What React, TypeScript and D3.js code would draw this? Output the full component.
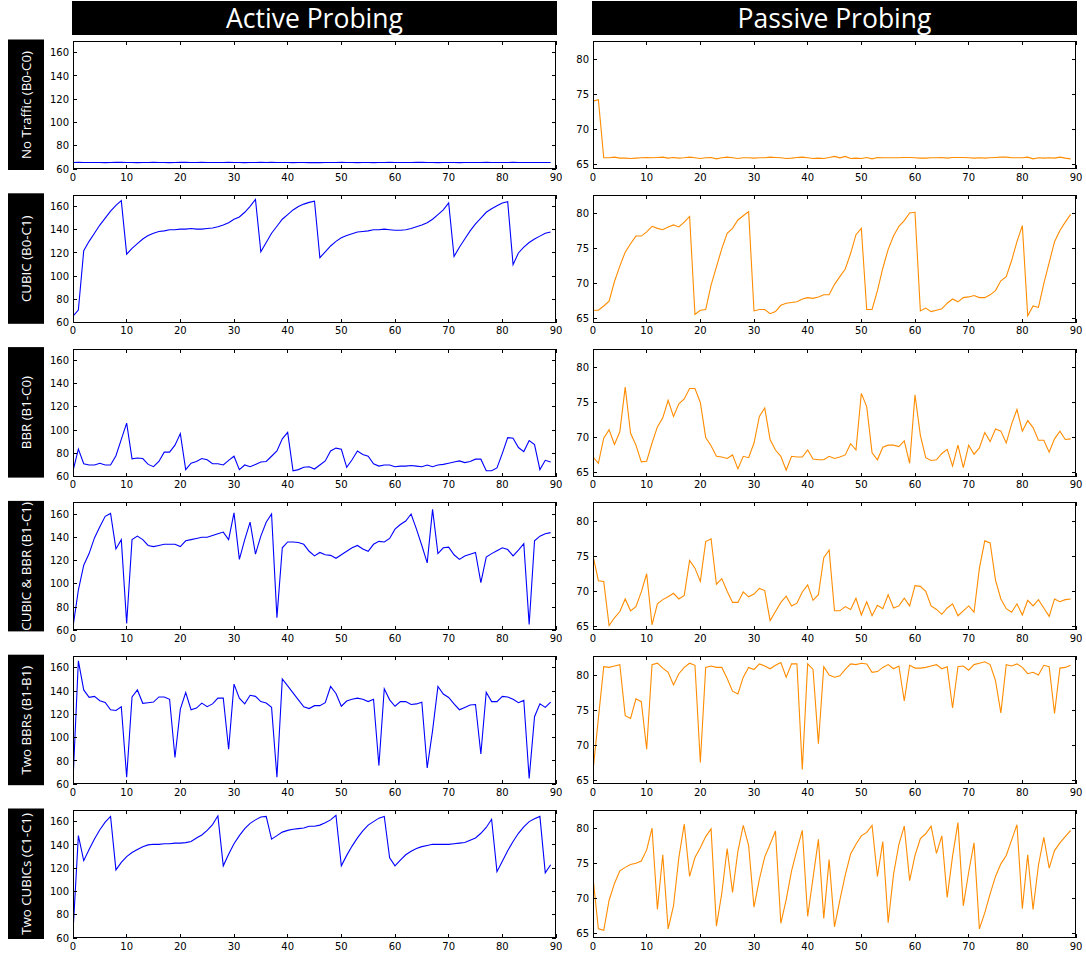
import React from "react";
import * as d3 from "d3";

const columnTitles = ["Active Probing", "Passive Probing"];
const rowLabels = [
  "No Traffic (B0-C0)",
  "CUBIC (B0-C1)",
  "BBR (B1-C0)",
  "CUBIC & BBR (B1-C1)",
  "Two BBRs (B1-B1)",
  "Two CUBICs (C1-C1)",
];
const xTicks = [0, 10, 20, 30, 40, 50, 60, 70, 80, 90];
const xDomain = [0, 90];
const activeYTicks = [60, 80, 100, 120, 140, 160];
const activeYDomain = [60, 170];
const passiveYTicks = [65, 70, 75, 80];
const passiveYDomain = [64.4, 82.7];

const activeNoTraffic = [
  65.6, 65.7, 65.6, 65.6, 65.6, 65.6, 65.5, 65.6, 65.7, 65.7,
  65.6, 65.6, 65.5, 65.6, 65.6, 65.7, 65.6, 65.6, 65.5, 65.6,
  65.7, 65.7, 65.6, 65.6, 65.7, 65.6, 65.6, 65.6, 65.6, 65.7,
  65.6, 65.6, 65.5, 65.6, 65.6, 65.7, 65.6, 65.7, 65.6, 65.6,
  65.6, 65.5, 65.6, 65.6, 65.5, 65.5, 65.5, 65.6, 65.6, 65.6,
  65.7, 65.6, 65.6, 65.5, 65.6, 65.6, 65.5, 65.6, 65.6, 65.7,
  65.6, 65.6, 65.6, 65.6, 65.7, 65.7, 65.6, 65.6, 65.5, 65.6,
  65.6, 65.6, 65.5, 65.6, 65.6, 65.6, 65.6, 65.7, 65.6, 65.6,
  65.6, 65.6, 65.7, 65.6, 65.6, 65.6, 65.6, 65.6, 65.6, 65.6,
];
const passiveNoTraffic = [
  74.1, 74.3, 66.0, 66.0, 66.1, 65.95, 65.95, 65.9, 65.95, 66.0,
  66.05, 66.0, 66.05, 66.1, 65.95, 66.05, 65.95, 66.0, 66.1, 66.0,
  65.9, 66.0, 66.05, 65.85, 66.0, 66.1, 66.0, 65.9, 66.0, 66.0,
  65.95, 66.0, 66.0, 66.1, 66.05, 66.0, 65.9, 65.95, 66.05, 66.1,
  66.0, 65.9, 65.95, 65.9, 66.05, 66.2, 66.0, 66.2, 65.9, 65.95,
  65.9, 66.05, 65.85, 66.05, 66.0, 66.0, 66.0, 66.0, 66.05, 66.05,
  66.0, 65.95, 65.95, 66.0, 66.0, 66.05, 65.95, 66.05, 66.05, 66.05,
  66.0, 65.95, 66.0, 65.95, 66.0, 66.05, 66.1, 66.1, 66.0, 66.0,
  66.0, 66.1, 65.85, 66.0, 65.95, 66.0, 65.95, 66.1, 65.95, 65.85,
];
const activeCubic = [
  65.7, 71, 122, 130, 137, 144, 150, 156, 161, 165,
  119, 124, 128, 132, 135, 137, 138.5, 139, 140, 140,
  140.5, 140.5, 141, 140.5, 140.5, 141, 141.5, 142.5, 144, 146,
  149, 151, 155, 160, 166, 121, 129, 137, 143, 149,
  153, 157, 160, 162, 163.5, 164.5, 116, 121, 126, 130,
  133, 135, 136.5, 138, 138.5, 139, 140, 140, 140.5, 140,
  139.5, 139.5, 140, 141, 142.5, 144, 146, 149, 153, 157,
  163, 117, 125, 132, 139, 145, 150, 155, 158, 160.5,
  163, 164, 110, 120, 125, 129, 132, 134.5, 137, 138,
];
const passiveCubic = [
  66.2, 66.2, 66.8, 67.5, 70.3, 72.5, 74.5, 75.7, 76.8, 76.8,
  77.4, 78.2, 77.9, 77.7, 78.1, 78.4, 78.1, 78.8, 79.6, 65.6,
  66.2, 66.3, 69.8, 72.4, 75.0, 77.2, 77.9, 79.1, 79.7, 80.3,
  66.1, 66.3, 66.3, 65.7, 66.0, 66.9, 67.2, 67.3, 67.4, 67.8,
  68.0, 67.9, 68.1, 68.4, 68.4, 69.9, 71.0, 72.1, 74.3, 77.0,
  77.9, 66.3, 66.3, 69.0, 72.2, 74.9, 76.8, 78.2, 79.0, 80.1,
  80.2, 66.1, 66.5, 66.0, 66.2, 66.4, 67.2, 67.8, 67.4, 68.0,
  68.1, 68.3, 68.0, 68.0, 68.4, 69.0, 70.4, 71.0, 73.3, 76.0,
  78.3, 65.4, 66.8, 66.6, 70.0, 73.0, 76.0, 77.6, 78.8, 79.9,
];
const activeBbr = [
  65, 83.6, 71, 70, 70, 71.5, 70, 70, 78, 92,
  106, 75.3, 76, 75.5, 70.5, 68.5, 73, 81, 81, 87,
  97, 66, 71.5, 73, 75.5, 74.5, 71, 71, 70, 74,
  77.5, 66, 70, 68.5, 70.5, 72.5, 73, 77.5, 82, 92.5,
  98, 65, 66, 68, 68.5, 66.5, 70, 73.5, 82, 84.5,
  83.5, 68, 74.5, 82, 79, 77.5, 71, 69, 70, 70,
  68.5, 69, 69, 69.5, 69, 68.5, 70, 68.5, 70, 70.5,
  71.5, 72.5, 73.5, 72, 73, 75, 75, 65, 65, 67.5,
  80, 93.5, 93, 85, 81.5, 91, 87.5, 66, 74, 72.5,
];
const passiveBbr = [
  67.2, 66.3, 69.9, 71.1, 69.0, 70.8, 77.2, 70.6, 68.9, 66.5,
  66.6, 69.2, 71.5, 72.8, 75.3, 73.0, 74.8, 75.5, 77.0, 77.0,
  75.0, 70.0, 68.8, 67.3, 67.2, 67.0, 67.5, 65.5, 67.3, 67.1,
  69.2, 73.0, 74.2, 69.7, 68.2, 67.3, 65.3, 67.3, 67.2, 67.2,
  68.2, 66.9, 66.8, 66.8, 67.3, 67.0, 67.2, 67.5, 69.1, 68.2,
  76.3, 74.4, 67.8, 66.8, 68.6, 68.9, 68.9, 68.7, 69.5, 66.3,
  76.1, 70.3, 67.1, 66.7, 66.8, 67.7, 68.3, 65.9, 68.9, 65.7,
  68.9, 67.6, 68.5, 70.7, 69.4, 71.2, 70.9, 69.2, 71.9, 74.0,
  70.9, 72.4, 71.4, 69.6, 69.6, 67.9, 69.8, 70.9, 69.7, 69.8,
];
const activeCubicBbr = [
  63, 94.7, 116, 126, 139.5, 149, 158, 160.5, 130, 138,
  66, 138, 141, 138, 133, 132, 133, 134, 134, 134,
  132, 137, 138, 139, 140, 140, 141.5, 143, 144.5, 138,
  161, 121, 138, 153, 125.5, 141, 153, 160, 71, 131,
  136, 136, 135.5, 134, 128, 124, 127, 125, 124.5, 122,
  125, 128, 131, 133, 130, 128, 134, 136.5, 136, 139,
  147, 151, 154, 160, 147, 133, 118, 164, 126, 131,
  131.5, 125, 121, 124, 125.5, 127, 101, 123, 126, 128.5,
  131, 129.5, 124, 129, 134.5, 65, 137, 141, 143, 144,
];
const passiveCubicBbr = [
  75.1, 71.5, 71.4, 65.1, 66.2, 67.1, 68.9, 67.2, 67.8, 69.9,
  72.5, 65.2, 68.2, 68.8, 69.2, 69.7, 68.9, 69.4, 74.4, 73.3,
  71.4, 77.1, 77.5, 71.0, 71.8, 70.0, 68.4, 68.4, 69.9, 69.2,
  69.6, 70.4, 70.1, 65.8, 67.1, 68.4, 69.3, 67.9, 68.3, 69.9,
  70.9, 68.7, 69.5, 74.8, 75.9, 67.2, 67.2, 67.8, 67.4, 69.0,
  66.6, 68.5, 66.5, 68.0, 67.5, 69.5, 67.6, 67.9, 69.0, 67.9,
  70.8, 70.7, 70.0, 67.9, 67.4, 66.7, 67.6, 68.2, 66.5, 67.2,
  67.9, 67.0, 73.3, 77.2, 76.9, 71.6, 68.9, 67.5, 67.0, 68.2,
  66.6, 68.7, 67.9, 68.8, 67.6, 66.4, 68.9, 68.5, 68.8, 68.9,
];
const activeTwoBbr = [
  63, 166, 141, 134.6, 135.5, 131.8, 130.3, 124, 123.4, 126.6,
  66, 135, 141, 129.5, 130, 130.6, 135, 135, 133, 83,
  124.5, 138.7, 124, 125.4, 129.7, 126.6, 129, 134, 134, 90,
  146, 134, 129, 136.4, 135.5, 131, 129.7, 126, 66, 150.5,
  144.5, 138.5, 132.5, 126.5, 125, 127.5, 127.5, 130, 144, 138,
  127, 131.5, 133, 134, 133, 131, 133, 76, 142, 132.5,
  127, 131, 131, 128.5, 129, 130.5, 74, 106, 144, 137.5,
  134.5, 129, 124, 126, 128, 128.5, 86, 139, 131, 131,
  135.5, 135, 133, 130, 132, 65, 118, 129, 126, 130.5,
];
const passiveTwoBbr = [
  66.3, 73.8, 81.2, 81.1, 81.3, 81.5, 74.2, 73.8, 76.6, 76.2,
  69.4, 81.5, 81.7, 81.0, 80.4, 78.6, 80.2, 81.1, 81.7, 81.4,
  67.5, 81.1, 81.3, 81.1, 81.1, 79.5, 77.7, 77.3, 79.7, 81.1,
  80.8, 81.6, 81.3, 80.9, 81.4, 81.8, 79.7, 81.6, 81.6, 66.5,
  81.6, 80.8, 70.2, 81.2, 80.0, 79.7, 79.9, 80.8, 81.6, 81.5,
  81.7, 81.6, 80.4, 80.5, 81.1, 81.5, 80.9, 81.3, 76.3, 81.4,
  81.0, 81.0, 81.1, 81.3, 81.5, 80.9, 81.2, 75.3, 81.2, 81.3,
  80.7, 81.5, 81.7, 81.9, 81.5, 79.2, 74.6, 81.5, 81.3, 81.6,
  81.1, 80.2, 80.4, 80.0, 81.4, 81.2, 74.5, 81.0, 81.1, 81.4,
];
const activeTwoCubic = [
  65, 148, 126.5, 136, 145, 153, 159.5, 164.5, 118.5, 125,
  130, 133.5, 136, 138.5, 140, 140.5, 140.5, 141, 141, 141.5,
  141.5, 142, 143, 146, 148.5, 152.5, 157.5, 165, 122, 132,
  141, 148, 154, 158.5, 161.5, 164, 164.5, 145, 148, 151,
  152.5, 153.5, 154, 154.5, 156, 156, 157, 159, 161.5, 165.5,
  122, 131, 139, 146, 152, 157, 160, 163, 164.5, 129,
  122, 127, 131.5, 134.5, 137, 138.5, 139.5, 140.5, 140.5, 140.5,
  140.5, 141, 141.5, 142, 144, 146, 150, 155, 162, 117,
  126, 135, 143, 150, 155.5, 160, 162.5, 164.5, 116, 123,
];
const passiveTwoCubic = [
  73.0, 65.7, 65.5, 69.8, 72.2, 74.0, 74.5, 74.9, 75.1, 75.4,
  77.0, 80.1, 68.5, 76.3, 65.7, 69.0, 75.9, 80.7, 73.2, 75.9,
  77.3, 78.9, 80.0, 66.1, 70.8, 77.2, 70.9, 76.8, 80.5, 77.6,
  68.8, 72.8, 76.0, 77.8, 79.7, 66.5, 69.9, 74.0, 77.0, 79.8,
  67.5, 73.0, 78.5, 67.2, 75.6, 66.0, 69.8, 73.4, 76.4, 77.8,
  79.0, 79.5, 80.5, 73.2, 78.2, 66.6, 73.5, 77.8, 80.4, 72.6,
  76.2, 78.6, 79.3, 80.4, 76.5, 79.0, 70.2, 76.1, 80.9, 69.0,
  73.8, 78.0, 65.7, 68.0, 70.7, 73.2, 75.0, 76.2, 78.4, 80.6,
  68.6, 76.3, 68.5, 74.8, 78.8, 74.4, 76.9, 78.0, 78.9, 79.8,
];

const activeSeries = [activeNoTraffic, activeCubic, activeBbr, activeCubicBbr, activeTwoBbr, activeTwoCubic];
const passiveSeries = [passiveNoTraffic, passiveCubic, passiveBbr, passiveCubicBbr, passiveTwoBbr, passiveTwoCubic];

const W = 1086;
const H = 955;
const colLeft = [73, 593];
const plotW = 483;
const plotH = 128;
const rowTop0 = 41;
const rowStep = 153.8;
const tickFont = "'DejaVu Sans', sans-serif";
const titleFont = "'Open Sans', 'Noto Sans', sans-serif";

type PanelProps = {
  left: number;
  top: number;
  values: number[];
  color: string;
  yDomain: number[];
  yTicks: number[];
  id: string;
};

function Panel({ left, top, values, color, yDomain, yTicks, id }: PanelProps) {
  const x = d3.scaleLinear().domain(xDomain).range([left, left + plotW]);
  const y = d3.scaleLinear().domain(yDomain).range([top + plotH, top]);
  const line = d3
    .line<number>()
    .x((_, i) => x(i))
    .y((d) => y(d));
  const bottom = top + plotH;
  const right = left + plotW;
  const tl = 4;
  return (
    <g>
      <defs>
        <clipPath id={id}>
          <rect x={left} y={top} width={plotW} height={plotH} />
        </clipPath>
      </defs>
      <path d={line(values) || ""} fill="none" stroke={color} strokeWidth={1.1} clipPath={`url(#${id})`} />
      <rect x={left + 0.5} y={top + 0.5} width={plotW - 1} height={plotH - 1} fill="none" stroke="#000" strokeWidth={1} shapeRendering="crispEdges" />
      {xTicks.map((t) => (
        <g key={"x" + t}>
          <line x1={x(t)} x2={x(t)} y1={bottom} y2={bottom - tl} stroke="#000" shapeRendering="crispEdges" />
          <line x1={x(t)} x2={x(t)} y1={top} y2={top + tl} stroke="#000" shapeRendering="crispEdges" />
          <text x={x(t)} y={bottom + 11.5} textAnchor="middle" fontFamily={tickFont} fontSize={10} fill="#000">
            {t}
          </text>
        </g>
      ))}
      {yTicks.map((t) => (
        <g key={"y" + t}>
          <line x1={left} x2={left + tl} y1={y(t)} y2={y(t)} stroke="#000" shapeRendering="crispEdges" />
          <line x1={right} x2={right - tl} y1={y(t)} y2={y(t)} stroke="#000" shapeRendering="crispEdges" />
          <text x={left - 4} y={y(t) + 3.6} textAnchor="end" fontFamily={tickFont} fontSize={10} fill="#000">
            {t}
          </text>
        </g>
      ))}
    </g>
  );
}

export default function App() {
  return (
    <svg width={W} height={H} style={{ position: "absolute", left: 0, top: 0, background: "#fff" }}>
      <rect x={0} y={0} width={W} height={H} fill="#fff" />
      {columnTitles.map((t, c) => (
        <g key={t}>
          <rect x={colLeft[c] - 1} y={1} width={plotW + 2} height={34} fill="#000" />
          <text x={colLeft[c] + plotW / 2} y={28} textAnchor="middle" fill="#fff" fontFamily={titleFont} fontSize={26.5}>
            {t}
          </text>
        </g>
      ))}
      {rowLabels.map((label, r) => {
        const top = rowTop0 + r * rowStep;
        return (
          <g key={label}>
            <rect x={8} y={top - 1.5} width={36} height={plotH + 2.5} fill="#000" />
            <text
              transform={`translate(${31},${top + plotH / 2}) rotate(-90)`}
              textAnchor="middle"
              fill="#fff"
              fontFamily={titleFont}
              fontSize={13.3}
            >
              {label}
            </text>
            <Panel
              id={`ca${r}`}
              left={colLeft[0]}
              top={top}
              values={activeSeries[r]}
              color="#0000ff"
              yDomain={activeYDomain}
              yTicks={activeYTicks}
            />
            <Panel
              id={`cp${r}`}
              left={colLeft[1]}
              top={top}
              values={passiveSeries[r]}
              color="#ff8c00"
              yDomain={passiveYDomain}
              yTicks={passiveYTicks}
            />
          </g>
        );
      })}
    </svg>
  );
}
